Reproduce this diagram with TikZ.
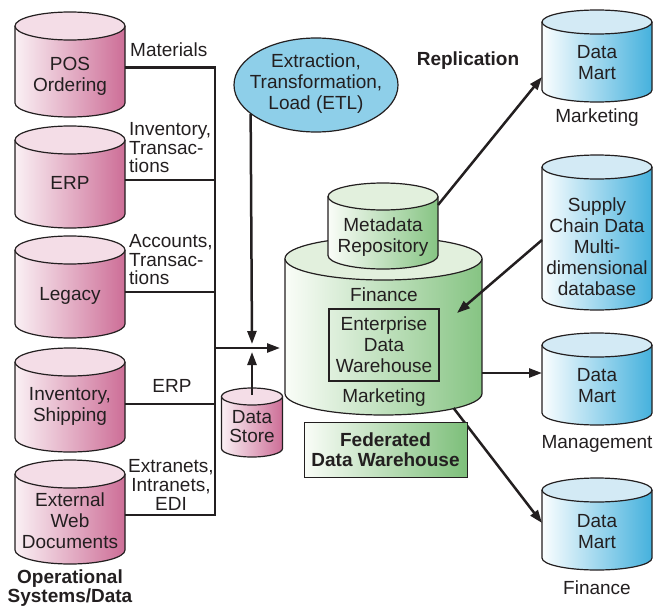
\documentclass[tikz,border=0pt]{standalone}
\usepackage{fontspec}
\setmainfont{Liberation Sans}
\usetikzlibrary{arrows.meta,shapes.geometric,calc}

\definecolor{ink}{HTML}{231F20}
\definecolor{pinkL}{HTML}{FAF0F4}
\definecolor{pinkR}{HTML}{CD6E97}
\definecolor{pinkT}{HTML}{F4DDE7}
\definecolor{greenL}{HTML}{FAFDF8}
\definecolor{greenR}{HTML}{86C483}
\definecolor{greenT}{HTML}{E2F0DD}
\definecolor{blueL}{HTML}{FBFEFF}
\definecolor{blueR}{HTML}{45B1DD}
\definecolor{blueT}{HTML}{D3EAF5}
\definecolor{etlfill}{HTML}{8ECFE9}
\definecolor{boxR}{HTML}{7DBF7A}

% one database drum: centre x, top y, bottom y, x radius, y radius, colour set, name
\newcommand\dbcyl[7]{%
  \pgfmathsetmacro\cyT{#2+#5}%
  \pgfmathsetmacro\cyB{#3-#5}%
  \pgfmathsetmacro\cyL{#1-#4}%
  \pgfmathsetmacro\cyR{#1+#4}%
  \pgfmathsetmacro\cyM{(#2+#3)/2}%
  \pgfmathsetmacro\cyW{2*#4}%
  \pgfmathsetmacro\cyH{#3-#2}%
  \shade[left color=#6L,right color=#6R] (\cyL,\cyT) -- (\cyL,\cyB)
    arc[start angle=180,end angle=360,x radius=#4pt,y radius=#5pt] -- (\cyR,\cyT) -- cycle;
  \draw[rim] (\cyL,\cyT) -- (\cyL,\cyB)
    arc[start angle=180,end angle=360,x radius=#4pt,y radius=#5pt] -- (\cyR,\cyT);
  \filldraw[rim,fill=#6T] (#1,\cyT) ellipse[x radius=#4pt,y radius=#5pt];
  \node[hull,minimum width=\cyW pt,minimum height=\cyH pt] (#7) at (#1,\cyM) {};
}

\tikzset{
  rim/.style={draw=ink,line width=1.2pt},
  hull/.style={draw=none,inner sep=0pt,outer sep=0pt},
  txt/.style={text=ink,inner sep=0pt,align=center,font=\fontsize{19}{21}\selectfont},
  tight/.style={font=\fontsize{19}{18.5}\selectfont},
  bus/.style={draw=ink,line width=2.5pt},
  arr/.style={bus,-{Triangle[length=13pt,width=9pt]}},
}

\begin{document}
\begin{tikzpicture}[x=1pt,y=-1pt]
\useasboundingbox (0,0) rectangle (655,610);

% operational sources
\dbcyl{70}{12}{117}{55}{14}{pink}{pos}
\dbcyl{70}{126}{228}{55}{14}{pink}{erp}
\dbcyl{70}{236}{338}{55}{14}{pink}{leg}
\dbcyl{70}{348}{452}{55}{14}{pink}{inv}
\dbcyl{70}{460}{564}{55}{14}{pink}{ext}
\dbcyl{252}{388}{457}{30.5}{8.5}{pink}{ds}

% federated warehouse and metadata
\dbcyl{383.5}{237}{415}{98.5}{21.5}{green}{fed}
\dbcyl{383}{183}{269}{55}{13.5}{green}{meta}

% data marts
\dbcyl{597}{10}{102}{55}{12}{blue}{mkt}
\dbcyl{597}{155}{310}{55}{12}{blue}{scm}
\dbcyl{597}{333}{425}{55}{12}{blue}{mgmt}
\dbcyl{597}{478}{570}{55}{12}{blue}{fin}

% ETL
\node[ellipse,draw=ink,line width=1.2pt,fill=etlfill,inner sep=0pt,
      minimum width=164pt,minimum height=94pt] (etl) at (316,85) {};
\node[txt] (etlT) at (316,84) {Extraction,\\Transformation,\\Load (ETL)};

% texts inside drums
\node[txt] (posT) at (70,76) {POS\\Ordering};
\node[txt] (erpT) at (70,183) {ERP};
\node[txt] (legT) at (70,296) {Legacy};
\node[txt] (invT) at (70,406) {Inventory,\\Shipping};
\node[txt] (extT) at (70,521) {External\\Web\\Documents};
\node[txt,font=\fontsize{19}{19}\selectfont] (dsT) at (252,427) {Data\\Store};
\node[txt] (metaT) at (383,237) {Metadata\\Repository};
\node[txt] (finT) at (384,295) {Finance};
\node[txt,draw=ink,line width=1.1pt,minimum width=110pt,minimum height=72pt] (edw) at (384,345) {Enterprise\\Data\\Warehouse};
\node[txt] (mktgT) at (384,398) {Marketing};
\node[txt] (mktT) at (597,63) {Data\\Mart};
\node[txt] (scmT) at (597,247) {Supply\\Chain Data\\Multi-\\dimensional\\database};
\node[txt] (mgmtT) at (597,386) {Data\\Mart};
\node[txt] (finmT) at (597,532) {Data\\Mart};

% captions
\node[txt] (mktL) at (597,118) {Marketing};
\node[txt] (mgmtL) at (597,444) {Management};
\node[txt] (finL) at (597,588) {Finance};
\node[txt,font=\fontsize{19}{19}\selectfont\bfseries] (opL) at (70,588) {Operational\\Systems/Data};
\node[txt,font=\fontsize{19}{21}\selectfont\bfseries] (repl) at (468,61) {Replication};

% feed labels
\node[txt,anchor=west] (lab1) at (130,50) {Materials};
\node[txt,tight,anchor=west,align=left] (lab2) at (129,148) {Inventory,\\Transac-\\tions};
\node[txt,tight,anchor=west,align=left] (lab3) at (129,260) {Accounts,\\Transac-\\tions};
\node[txt] (lab4) at (172,386) {ERP};
\node[txt,font=\fontsize{19}{19}\selectfont] (lab5) at (171,485) {Extranets,\\Intranets,\\EDI};

% collecting bus
\coordinate (busx) at (215,0);
\coordinate (hub) at (252,348);
\coordinate (p1) at ([yshift=-3pt]pos.east);
\coordinate (p2) at ([yshift=-3pt]erp.east);
\coordinate (p3) at ([yshift=-5pt]leg.east);
\coordinate (p4) at ([yshift=-4pt]inv.east);
\coordinate (p5) at ([yshift=-3pt]ext.east);
\draw[bus,line join=miter] (p1) -| (p5 -| busx) -- (p5);
\foreach \p in {p2,p3,p4} \draw[bus] (\p) -- (\p -| busx);
\draw[arr] (hub -| busx) -- ([xshift=-5pt]fed.west |- hub);
\draw[arr] (etl.204.7) -- ([yshift=4pt]hub);
\draw[arr] ([yshift=-7pt]ds.north) -- ([yshift=-4pt]hub);

% distribution
\draw[arr] ([yshift=21pt]meta.east) -- ([yshift=-21pt]mkt.west);
\draw[arr] ([yshift=-7.5pt]scm.west) -- ([shift={(73.5,-13)}]fed.center);
\draw[arr] ([yshift=-47pt]fed.east) -- ([yshift=6pt]mgmt.west);
\draw[arr] ([shift={(70,82)}]fed.center) -- ([yshift=1pt]fin.west);

% title box
\node[txt,font=\fontsize{19}{20}\selectfont\bfseries,draw=ink,line width=1pt,
      left color=greenL,right color=boxR,minimum width=163pt,minimum height=55pt] (fedT) at (385.5,449.5) {Federated\\Data Warehouse};
\end{tikzpicture}
\end{document}
